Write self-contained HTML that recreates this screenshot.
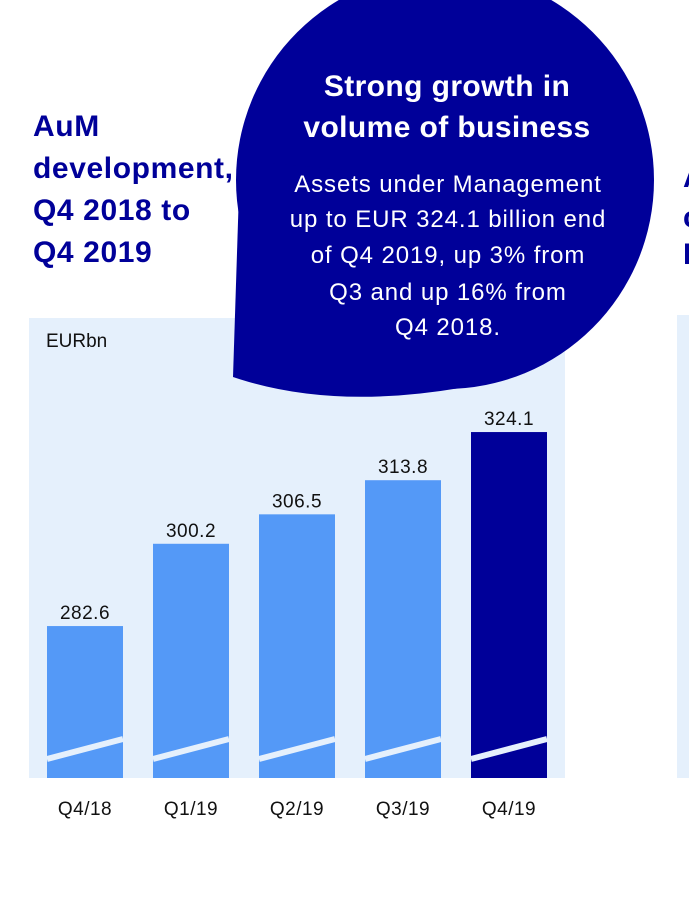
<!DOCTYPE html>
<html><head><meta charset="utf-8"><style>
body{margin:0;width:689px;height:898px;background:#fff;overflow:hidden;font-family:"Liberation Sans",sans-serif;position:relative}
.t{position:absolute;left:33px;top:106px;color:#000099;font-weight:bold;font-size:30px;letter-spacing:0.6px;line-height:42px}
</style></head><body>
<div class="t">AuM<br>development,<br>Q4 2018 to<br>Q4 2019</div>
<svg width="689" height="898" style="position:absolute;left:0;top:0">
<rect x="29" y="318" width="536" height="460" fill="#e5f0fc"/>
<rect x="677" y="315" width="20" height="463" fill="#e5f0fc"/>
<text x="683" y="187" font-size="30" font-weight="bold" fill="#000099">A</text>
<text x="683" y="227" font-size="30" font-weight="bold" fill="#000099">c</text>
<text x="683" y="264" font-size="30" font-weight="bold" fill="#000099">I</text>
<text x="46" y="347" font-size="19" fill="#111">EURbn</text>
<g id="bars"></g>
<g>
<circle cx="445" cy="180" r="209" fill="#000099"/>
<path d="M240,160 L233,377 Q330,410 460,388 L445,180 Z" fill="#000099"/>
<text x="447" y="96" font-size="30" font-weight="bold" fill="#fff" text-anchor="middle" letter-spacing="0.4">Strong growth in</text>
<text x="447" y="137" font-size="30" font-weight="bold" fill="#fff" text-anchor="middle" letter-spacing="0.4">volume of business</text>
<g font-size="24" fill="#fff" text-anchor="middle" letter-spacing="0.9">
<text x="448" y="192">Assets under Management</text>
<text x="448" y="227">up to EUR 324.1 billion end</text>
<text x="448" y="263">of Q4 2019, up 3% from</text>
<text x="448" y="300">Q3 and up 16% from</text>
<text x="448" y="335">Q4 2018.</text>
</g></g>
</svg>
<script>
const categories=["Q4/18","Q1/19","Q2/19","Q3/19","Q4/19"];
const values=[282.6,300.2,306.5,313.8,324.1];
const labels=["282.6","300.2","306.5","313.8","324.1"];
const yMin=250.1,pxPer=4.675,base=778;
const y=v=>base-(v-yMin)*pxPer;
const x=i=>47+i*106;
const g=document.getElementById('bars');const ns="http://www.w3.org/2000/svg";
values.forEach((v,i)=>{
 const r=document.createElementNS(ns,'rect');
 
 
 r.setAttribute('x',x(i));r.setAttribute('y',y(v));r.setAttribute('width',76);r.setAttribute('height',base-y(v));
 r.setAttribute('fill',i===values.length-1?'#000099':'#5499f7');g.appendChild(r);
 const l=document.createElementNS(ns,'line');
 
 
 l.setAttribute('x1',x(i));l.setAttribute('y1',759);l.setAttribute('x2',x(i)+76);l.setAttribute('y2',739);
 l.setAttribute('stroke','#e5f0fc');l.setAttribute('stroke-width',6);g.appendChild(l);
 const t=document.createElementNS(ns,'text');
 
 
 t.setAttribute('x',x(i)+38);t.setAttribute('y',y(v)-7);t.setAttribute('text-anchor','middle');t.setAttribute('font-size','19');t.setAttribute('letter-spacing','0.5');t.setAttribute('fill','#111');
 t.textContent=labels[i];g.appendChild(t);
 const c=document.createElementNS(ns,'text');
 
 
 c.setAttribute('x',x(i)+38);c.setAttribute('y',815);c.setAttribute('text-anchor','middle');c.setAttribute('font-size','19');c.setAttribute('letter-spacing','0.5');c.setAttribute('fill','#111');
 c.textContent=categories[i];g.appendChild(c);
});
</script>
</body></html>
